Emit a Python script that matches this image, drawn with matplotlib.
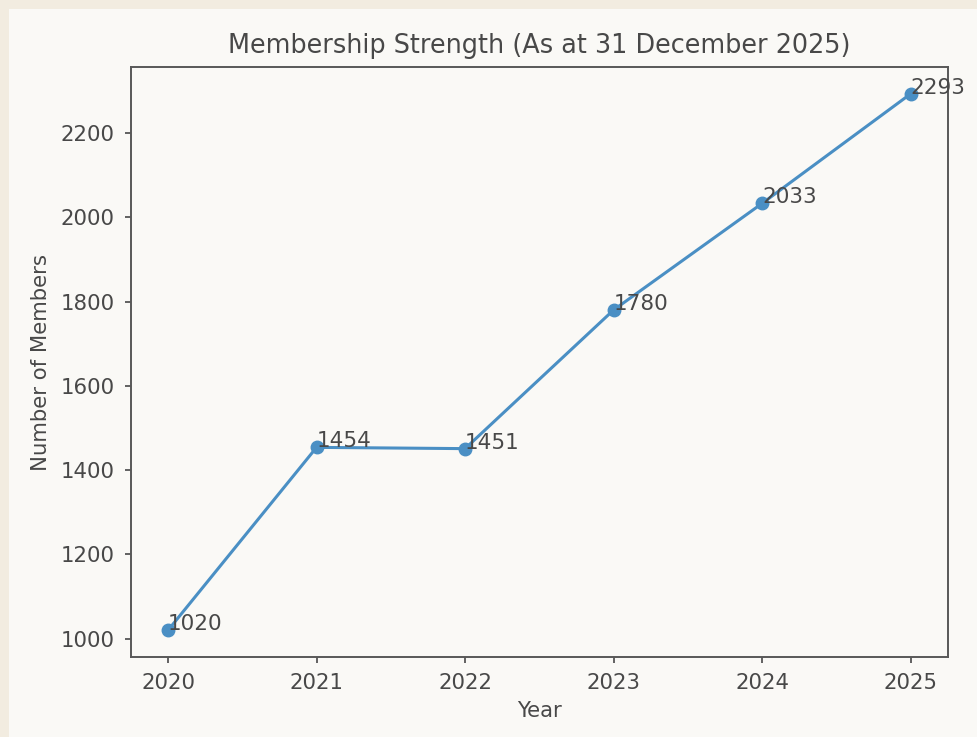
import matplotlib
matplotlib.use("Agg")
import matplotlib.pyplot as plt
from matplotlib.patches import Rectangle

years = [2020, 2021, 2022, 2023, 2024, 2025]
members = [1020, 1454, 1451, 1780, 2033, 2293]

TEXT = '#484848'
SPINE = '#585858'
LINE = '#4a8fc4'

fig = plt.figure(figsize=(9.77, 7.37), dpi=100)
fig.patch.set_facecolor('#f2ece0')
# inner panel (page card)
fig.patches.append(Rectangle((9 / 977, 0), 1, 1 - 9 / 737, transform=fig.transFigure,
                             facecolor='#faf9f6', edgecolor='none', zorder=-1))

ax = fig.add_axes([0.134, 0.1085, 0.836, 0.8005])
ax.set_zorder(1)
ax.set_facecolor('#faf9f6')

ax.plot(years, members, marker='o', color=LINE, linewidth=2.2, markersize=9)
for x, y in zip(years, members):
    ax.text(x, y, str(y), fontsize=15.5, color=TEXT)

ax.set_title('Membership Strength (As at 31 December 2025)', fontsize=18.4, color=TEXT, pad=10)
ax.set_xlabel('Year', fontsize=15.3, color=TEXT, labelpad=6)
ax.set_ylabel('Number of Members', fontsize=15.3, color=TEXT, labelpad=7)
ax.set_xticks(years)
ax.tick_params(labelsize=15.3, colors=TEXT, length=4.5, width=1.2, pad=7)
for s in ax.spines.values():
    s.set_color(SPINE)
    s.set_linewidth(1.4)

fig.savefig('out.png', dpi=100, facecolor=fig.get_facecolor())
